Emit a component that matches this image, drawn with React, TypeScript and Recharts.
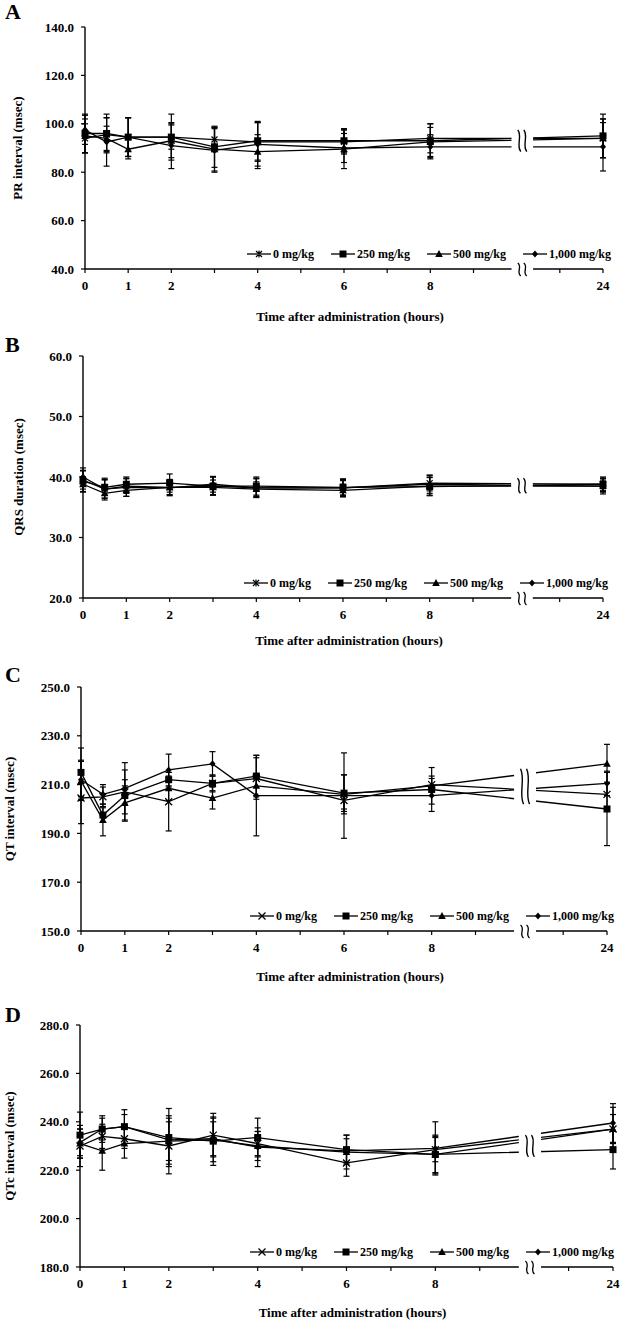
import React from "react";
import { LineChart, Line, XAxis, YAxis, ErrorBar, ReferenceArea, ReferenceLine } from "recharts";

const FONT = '"Liberation Serif", "Times New Roman", Times, serif';

// sampling times (hours); 24 h sits after the axis break, at position 12
const timeLabels = ["0", "0.5", "1", "2", "3", "4", "6", "8", "24"];
const timePos = [0, 0.5, 1, 2, 3, 4, 6, 8, 12];
const axisTicks = [0, 1, 2, 3, 4, 5, 6, 7, 8, 9, 11, 12];
const axisTickText: Record<number, string> = { 0: "0", 1: "1", 2: "2", 4: "4", 6: "6", 8: "8", 12: "24" };
const BREAK_FROM = 9.88;
const BREAK_TO = 10.38;

const doses = ["0 mg/kg", "250 mg/kg", "500 mg/kg", "1,000 mg/kg"];

// A: PR interval (msec), mean and SD per dose
const prMean = [
  [94, 95.5, 94.5, 94.5, 93.5, 92.5, 92.5, 94, 94],
  [96, 96, 94.5, 94.5, 90.5, 93, 93, 93, 95],
  [95, 94, 89.5, 93, 89.5, 88.5, 89.5, 92.5, 94],
  [97.5, 92.5, 94.5, 91, 89, 91.5, 90, 90.5, 90.5],
];
const prSd = [
  [6, 7, 8, 5, 5, 8, 5, 6, 8],
  [8, 8, 8, 9.5, 8.5, 8, 5, 7, 9],
  [7, 5, 4, 7, 9, 7, 8, 6, 8],
  [6, 10, 8, 9.5, 9, 9, 6, 5, 10],
];

// B: QRS duration (msec)
const qrsMean = [
  [39.5, 38, 38.5, 38.3, 38.5, 38.2, 38.2, 39, 38.8],
  [39.3, 38.3, 38.8, 39, 38.5, 38.5, 38.3, 38.4, 38.8],
  [38.8, 37.3, 37.8, 38.3, 38.3, 38, 37.8, 38.5, 38.5],
  [40, 38, 38.3, 38.2, 38.8, 38.2, 38.2, 38.8, 38.5],
];
const qrsSd = [
  [1.5, 1.5, 1.2, 1.3, 1.5, 1.5, 1.2, 1.3, 1],
  [1.8, 1.3, 1.2, 1.5, 1.5, 1.5, 1.3, 1.5, 1.2],
  [1.2, 0.8, 1, 1.2, 1.2, 1.2, 1, 1.5, 1],
  [1.5, 1.8, 1.5, 1.3, 1.3, 1.6, 1.5, 1.5, 1.3],
];

// C: QT interval (msec)
const qtMean = [
  [204.5, 205, 207, 203, 210.5, 212.5, 203.5, 210, 206],
  [215, 197.5, 205.5, 212, 210.5, 213.5, 206.5, 208, 200],
  [211.5, 195.5, 202.5, 208.5, 204.5, 209.5, 206, 209.5, 218.5],
  [212, 206, 208.5, 216, 218.5, 205.5, 205.5, 205.5, 210.5],
];
const qtSd = [
  [10.5, 4, 5, 12, 3, 8.5, 3.5, 2.5, 5],
  [10, 3, 10.5, 3, 3.5, 8.5, 7.5, 9, 15],
  [8, 6.5, 7, 5, 4.5, 4, 8, 4, 8],
  [8, 4, 10.5, 6.5, 5, 16.5, 17.5, 3.5, 5],
];

// D: QTc interval (msec)
const qtcMean = [
  [230, 234, 233, 230, 234.5, 231, 223, 228.5, 237],
  [234.5, 237, 238, 233.5, 232, 233.5, 228.5, 226.5, 228.5],
  [231, 228, 231, 232, 232.5, 230, 227.5, 226.5, 237],
  [231.5, 237, 238, 232.5, 233, 229.5, 228, 229, 239.5],
];
const qtcSd = [
  [8.5, 5, 4, 11.5, 9, 5, 5.5, 5, 6],
  [9.5, 5.5, 7, 12, 10, 8, 6, 7.5, 8],
  [6, 8, 6, 8, 9, 6, 7, 8, 9],
  [5.5, 4.5, 5, 10, 7, 8, 5, 11, 8],
];

type Kind = "star" | "x" | "square" | "triangle" | "diamond";

function Marker({ kind, cx, cy }: { kind: Kind; cx: number; cy: number }) {
  if (cx == null || cy == null) return null;
  switch (kind) {
    case "star":
      return (
        <path
          d={`M${cx - 3},${cy - 3}L${cx + 3},${cy + 3}M${cx - 3},${cy + 3}L${cx + 3},${cy - 3}M${cx},${cy - 3.5}L${cx},${cy + 3.5}`}
          stroke="#000" strokeWidth={1.2} fill="none"
        />
      );
    case "x":
      return (
        <path d={`M${cx - 3.5},${cy - 3.5}L${cx + 3.5},${cy + 3.5}M${cx - 3.5},${cy + 3.5}L${cx + 3.5},${cy - 3.5}`}
          stroke="#000" strokeWidth={1.3} fill="none" />
      );
    case "square":
      return <rect x={cx - 3.5} y={cy - 3.5} width={7} height={7} fill="#000" />;
    case "triangle":
      return <path d={`M${cx},${cy - 4}L${cx + 3.8},${cy + 3}L${cx - 3.8},${cy + 3}Z`} fill="#000" />;
    default:
      return <path d={`M${cx},${cy - 3.5}L${cx + 3},${cy}L${cx},${cy + 3.5}L${cx - 3},${cy}Z`} fill="#000" />;
  }
}

const wave = (x: number, y0: number, h: number) =>
  `M${x - 1.5},${y0} C${x + 3.5},${y0 + h * 0.3} ${x - 3.5},${y0 + h * 0.7} ${x + 1.5},${y0 + h}`;

function BreakMark(props: any) {
  const { x, y, width, height, plotTop, plotBottom } = props;
  const cx = x + width / 2;
  return (
    <g>
      <rect x={x} y={plotTop} width={width} height={plotBottom - plotTop - 2} fill="#fff" />
      <path d={wave(cx - 3, y, height)} stroke="#000" strokeWidth={1.4} fill="none" />
      <path d={wave(cx + 3, y, height)} stroke="#000" strokeWidth={1.4} fill="none" />
      <path d={wave(cx - 3, plotBottom - 6, 13)} stroke="#000" strokeWidth={1.3} fill="none" />
      <path d={wave(cx + 3, plotBottom - 6, 13)} stroke="#000" strokeWidth={1.3} fill="none" />
    </g>
  );
}

type PanelCfg = {
  letter: string;
  yTitle: string;
  mean: number[][];
  sd: number[][];
  yDomain: [number, number];
  yTicks: number[];
  breakRange: [number, number];
  firstMarker: Kind;
  top: number;
  height: number;
  plotLeft: number;
  plotRight: number;
  plotTop: number;
  plotBottom: number;
  legendRight: number;
  yTitleX: number;
  xTitleGap: number;
  letterY: number;
};

const panels: PanelCfg[] = [
  {
    letter: "A", yTitle: "PR interval (msec)", mean: prMean, sd: prSd,
    yDomain: [40, 140], yTicks: [40, 60, 80, 100, 120, 140], breakRange: [88.5, 97.5], firstMarker: "star",
    top: 0, height: 330, plotLeft: 85, plotRight: 603, plotTop: 27, plotBottom: 269,
    legendRight: 611, yTitleX: 18, xTitleGap: 48, letterY: 12,
  },
  {
    letter: "B", yTitle: "QRS duration (msec)", mean: qrsMean, sd: qrsSd,
    yDomain: [20, 60], yTicks: [20, 30, 40, 50, 60], breakRange: [37.3, 39.8], firstMarker: "star",
    top: 330, height: 330, plotLeft: 83, plotRight: 603, plotTop: 26, plotBottom: 268,
    legendRight: 608, yTitleX: 19, xTitleGap: 43, letterY: 15,
  },
  {
    letter: "C", yTitle: "QT interval (msec)", mean: qtMean, sd: qtSd,
    yDomain: [150, 250], yTicks: [150, 170, 190, 210, 230, 250], breakRange: [202, 216.5], firstMarker: "x",
    top: 660, height: 330, plotLeft: 81, plotRight: 607, plotTop: 27, plotBottom: 271,
    legendRight: 614, yTitleX: 10, xTitleGap: 46, letterY: 15,
  },
  {
    letter: "D", yTitle: "QTc interval (msec)", mean: qtcMean, sd: qtcSd,
    yDomain: [180, 280], yTicks: [180, 200, 220, 240, 260, 280], breakRange: [225.5, 234.5], firstMarker: "x",
    top: 995, height: 327, plotLeft: 80, plotRight: 613, plotTop: 30, plotBottom: 272,
    legendRight: 614, yTitleX: 10, xTitleGap: 46, letterY: 20,
  },
];

const textStyle = { fontFamily: FONT, fontWeight: 700, fontSize: 13, fill: "#000" };

function Panel({ cfg }: { cfg: PanelCfg }) {
  const rows = timePos.map((t, i) => {
    const row: Record<string, number | string> = { t, hour: timeLabels[i] };
    cfg.mean.forEach((s, k) => {
      row[`m${k}`] = s[i];
      row[`e${k}`] = cfg.sd[k][i];
    });
    return row;
  });
  const kinds: Kind[] = [cfg.firstMarker, "square", "triangle", "diamond"];
  const xAxisHeight = 30;
  const W = 622;
  const yMin = cfg.yDomain[0];

  return (
    <div style={{ position: "absolute", left: 0, top: cfg.top, width: W, height: cfg.height }}>
      <LineChart
        width={W}
        height={cfg.height}
        data={rows}
        margin={{ top: cfg.plotTop, right: W - cfg.plotRight, left: 0, bottom: cfg.height - cfg.plotBottom - xAxisHeight }}
      >
        <XAxis
          dataKey="t" type="number" domain={[0, 12]} ticks={axisTicks} interval={0}
          tickFormatter={(v: number) => axisTickText[v] ?? ""}
          axisLine={false} tickLine={{ stroke: "#000", strokeWidth: 1.2 }} tickSize={4} tickMargin={8}
          tick={textStyle} height={xAxisHeight}
        />
        <YAxis
          type="number" domain={cfg.yDomain} ticks={cfg.yTicks} interval={0} width={cfg.plotLeft}
          tickFormatter={(v: number) => v.toFixed(1)}
          axisLine={{ stroke: "#000", strokeWidth: 1.4 }} tickLine={{ stroke: "#000", strokeWidth: 1.2 }}
          tickSize={4} tickMargin={7} tick={textStyle}
        />
        <ReferenceLine segment={[{ x: 0, y: yMin }, { x: BREAK_FROM, y: yMin }]} stroke="#000" strokeWidth={1.4} ifOverflow="visible" />
        <ReferenceLine segment={[{ x: BREAK_TO, y: yMin }, { x: 12, y: yMin }]} stroke="#000" strokeWidth={1.4} ifOverflow="visible" />
        {doses.map((d, k) => (
          <Line
            key={d}
            dataKey={`m${k}`}
            name={d}
            stroke="#000"
            strokeWidth={1.3}
            isAnimationActive={false}
            activeDot={false}
            dot={(p: any) => <Marker key={`${k}-${p.index}`} kind={kinds[k]} cx={p.cx} cy={p.cy} />}
          >
            <ErrorBar dataKey={`e${k}`} width={3} stroke="#000" strokeWidth={1.2} direction="y" isAnimationActive={false} />
          </Line>
        ))}
        <ReferenceArea
          x1={BREAK_FROM} x2={BREAK_TO} y1={cfg.breakRange[0]} y2={cfg.breakRange[1]}
          ifOverflow="visible"
          zIndex={3000}
          shape={(p: any) => <BreakMark {...p} plotTop={cfg.plotTop} plotBottom={cfg.plotBottom} />}
        />
      </LineChart>

      {/* legend */}
      <div
        style={{
          position: "absolute", right: W - cfg.legendRight, top: cfg.plotBottom - 15 - 8, height: 16,
          display: "flex", alignItems: "center", gap: 17,
          fontFamily: FONT, fontWeight: 700, fontSize: 12, color: "#000", whiteSpace: "nowrap",
        }}
      >
        {doses.map((d, k) => (
          <div key={d} style={{ display: "flex", alignItems: "center" }}>
            <svg width={24} height={10} style={{ marginRight: 2 }}>
              <line x1={0} y1={5} x2={24} y2={5} stroke="#000" strokeWidth={1.3} />
              <Marker kind={kinds[k]} cx={12} cy={5} />
            </svg>
            <span>{d}</span>
          </div>
        ))}
      </div>

      {/* axis titles and panel letter */}
      <div
        style={{
          position: "absolute", left: (cfg.plotLeft + cfg.plotRight) / 2 + 6, top: cfg.plotBottom + cfg.xTitleGap,
          transform: "translate(-50%, -50%)", fontFamily: FONT, fontWeight: 700, fontSize: 13, whiteSpace: "nowrap",
        }}
      >
        Time after administration (hours)
      </div>
      <div
        style={{
          position: "absolute", left: cfg.yTitleX, top: (cfg.plotTop + cfg.plotBottom) / 2,
          transform: "translate(-50%, -50%) rotate(-90deg)", fontFamily: FONT, fontWeight: 700, fontSize: 13,
          whiteSpace: "nowrap",
        }}
      >
        {cfg.yTitle}
      </div>
      <div
        style={{
          position: "absolute", left: 5, top: cfg.letterY, transform: "translateY(-50%)",
          fontFamily: FONT, fontWeight: 700, fontSize: 22, lineHeight: "22px",
        }}
      >
        {cfg.letter}
      </div>
    </div>
  );
}

export default function App() {
  return (
    <div style={{ position: "absolute", left: 0, top: 0, width: 622, height: 1322, background: "#fff" }}>
      {panels.map((p) => (
        <Panel key={p.letter} cfg={p} />
      ))}
    </div>
  );
}
